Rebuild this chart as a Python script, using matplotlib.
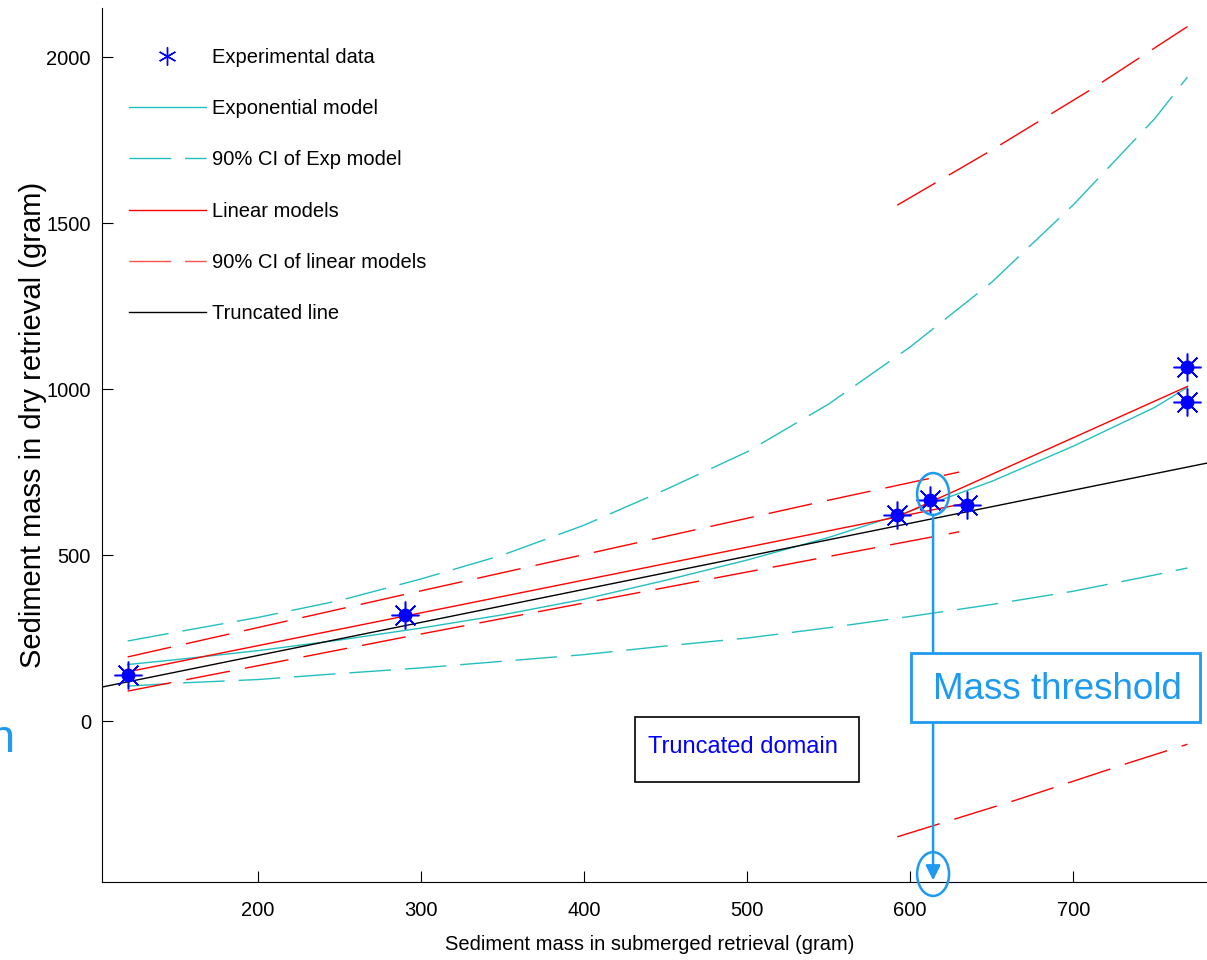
# Sediment mass: dry vs submerged retrieval, models and truncation threshold
import matplotlib
matplotlib.use('Agg')
import matplotlib.pyplot as plt
from matplotlib import font_manager
from matplotlib.patches import Ellipse, Rectangle
from matplotlib.lines import Line2D

# Experimental data
x_data = [120, 290, 592, 612, 635, 770, 770]
y_data = [140, 320, 620, 665, 650, 1065, 960]

# Exponential model and its 90% CI
x_exp = [120, 150, 200, 250, 300, 350, 400, 450, 500, 550, 600, 650, 700, 750, 770]
exp_fit = [170, 185, 212, 244, 280, 320, 367, 424, 485, 553, 632, 722, 828, 945, 1005]
exp_hi = [241, 268, 312, 363, 428, 500, 590, 697, 811, 955, 1127, 1322, 1555, 1815, 1940]
exp_lo = [105, 114, 125, 143, 160, 180, 200, 226, 250, 281, 315, 351, 391, 440, 461]

# Linear models (below / above threshold)
x_lin1 = [120, 638]
y_lin1 = [148, 660]
x_lin2 = [592, 770]
y_lin2 = [615, 1008]

# 90% CI of linear models
x_ci1 = [120, 287, 545, 630]
ci1_hi = [193, 378, 660, 750]
ci1_lo = [90, 250, 491, 570]
x_ci2_hi = [592, 650, 710, 770]
ci2_hi = [1554, 1720, 1900, 2092]
x_ci2_lo = [592, 665, 736, 770]
ci2_lo = [-349, -238, -123, -70]

# Truncated line
x_trunc = [104, 782]
y_trunc = [102, 777]

threshold = 614

xticks = [200, 300, 400, 500, 600, 700]
yticks = [0, 500, 1000, 1500, 2000]

names = {f.name for f in font_manager.fontManager.ttflist}
narrow = 'Liberation Sans Narrow' if 'Liberation Sans Narrow' in names else 'Liberation Sans'
plt.rcParams['font.family'] = [narrow, 'DejaVu Sans']

W, H = 1207, 960
def fx(px): return px / W
def fy(py): return 1 - py / H

cyan = '#22BFBF'
lb = '#1E9AF0'

fig = plt.figure(figsize=(W / 100, H / 100), dpi=100)
ax = fig.add_axes([fx(102), fy(882), 1 - fx(102), (882 - 8) / H])

ax.plot(x_exp, exp_fit, color=cyan, lw=1)
ax.plot(x_exp, exp_hi, color=cyan, lw=1, dashes=(30, 10))
ax.plot(x_exp, exp_lo, color=cyan, lw=1, dashes=(30, 10))
ax.plot(x_lin1, y_lin1, color='red', lw=1)
ax.plot(x_lin2, y_lin2, color='red', lw=1)
ax.plot(x_ci1, ci1_hi, color='red', lw=1, dashes=(32, 11))
ax.plot(x_ci1, ci1_lo, color='red', lw=1, dashes=(32, 11))
ax.plot(x_ci2_hi, ci2_hi, color='red', lw=1, dashes=(32, 11))
ax.plot(x_ci2_lo, ci2_lo, color='red', lw=1, dashes=(32, 11))
ax.plot(x_trunc, y_trunc, color='black', lw=1)

ax.plot(x_data, y_data, ls='none', marker='o', ms=9, color='blue', zorder=5)
ax.plot(x_data, y_data, ls='none', marker=(8, 2, 0), ms=20, mew=1.1, color='blue', zorder=6)

ax.set_xlim(104.3, 782)
ax.set_ylim(-485, 2148)
ax.set_xticks(xticks)
ax.set_yticks(yticks)
ax.spines['top'].set_visible(False)
ax.spines['right'].set_visible(False)
ax.tick_params(direction='in', length=8, width=0.8, labelsize=14.5)
ax.tick_params(axis='x', pad=14)
ax.tick_params(axis='y', pad=8)

handles = [
    Line2D([], [], ls='none', marker=(6, 2, 0), ms=13, mew=1, color='blue'),
    Line2D([], [], color=cyan, lw=1),
    Line2D([], [], color=cyan, lw=1, dashes=(30, 10)),
    Line2D([], [], color='red', lw=1),
    Line2D([], [], color='#FF5050', lw=1, dashes=(30, 10)),
    Line2D([], [], color='black', lw=1),
]
labels = ['Experimental data', 'Exponential model', '90% CI of Exp model',
          'Linear models', '90% CI of linear models', 'Truncated line']
ax.legend(handles, labels, loc='upper left', bbox_to_anchor=(fx(129), fy(48)),
          bbox_transform=fig.transFigure, frameon=False,
          prop={'family': 'Liberation Sans', 'size': 14.5},
          handlelength=3.8, handletextpad=0.3, labelspacing=1.6,
          borderpad=0, borderaxespad=0)

fig.text(fx(650), fy(950), 'Sediment mass in submerged retrieval (gram)',
         ha='center', va='baseline', fontsize=14.5)
fig.text(fx(33), fy(425), 'Sediment mass in dry retrieval (gram)',
         rotation=90, ha='center', va='center', fontsize=21, family='Liberation Sans')

# Truncated domain box
fig.patches.append(Rectangle((fx(635), fy(782)), (859 - 635) / W, (782 - 717) / H,
                             transform=fig.transFigure, fill=False, ec='black', lw=1.2))
fig.text(fx(648), fy(753), 'Truncated domain', color='blue', fontsize=17, va='baseline')

# Mass threshold marker
ax.annotate('', xy=(threshold, -480), xytext=(threshold, 620), annotation_clip=False,
            arrowprops=dict(arrowstyle='-|>', color=lb, lw=1.8, mutation_scale=22,
                            shrinkA=0, shrinkB=0))
ax.add_patch(Ellipse((threshold, 684), 19.6, 126, fill=False, ec=lb, lw=1.8, zorder=7))
ax.add_patch(Ellipse((threshold, -461), 19.6, 132, fill=False, ec=lb, lw=1.8,
                     zorder=7, clip_on=False))
fig.patches.append(Rectangle((fx(911), fy(722)), (1200 - 911) / W, (722 - 653) / H,
                             transform=fig.transFigure, fc='white', ec=lb, lw=2))
fig.text(fx(933), fy(699), 'Mass threshold', color=lb, fontsize=26.5,
         family='Liberation Sans', va='baseline')

# tail of a word cut off at the left edge in the source image
fig.text(fx(-11), fy(752), 'n', color=lb, fontsize=34, family='Liberation Sans',
         va='baseline')

fig.savefig('out.png', dpi=100)
